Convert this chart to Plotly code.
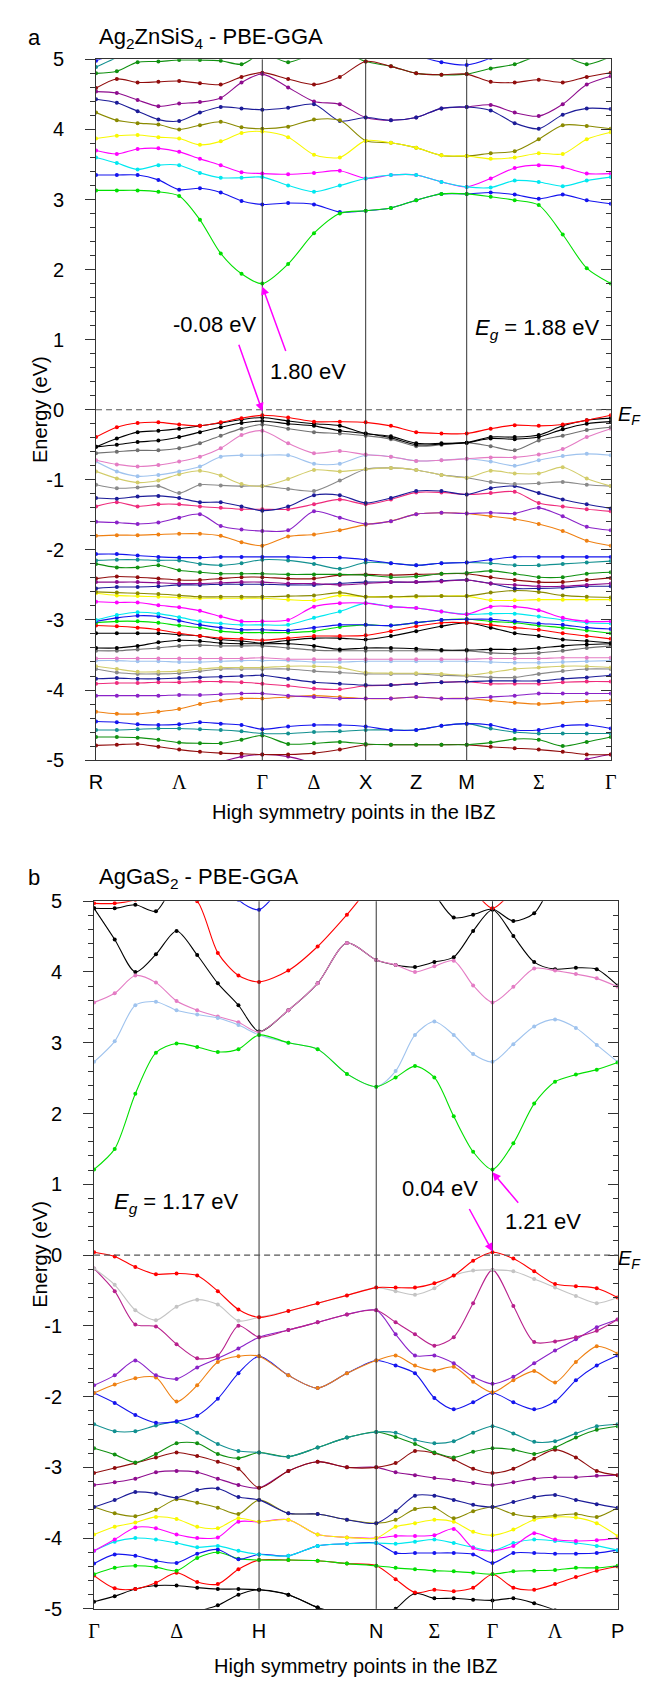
import numpy as np
import plotly.graph_objects as go

W, H = 652, 1686

# ---------------- k-path definitions ----------------
A_NODES = [0.0, 1.70, 2.757, 3.79, 5.263]        # R, Gamma, X, M, Gamma
A_NSEG = [8, 4, 4, 6]
A_TICKTEXT = ['R', 'Λ', 'Γ', 'Δ', 'X', 'Z', 'M', 'Σ', 'Γ']
B_NODES = [0.0, 1.684, 2.880, 4.067, 5.344]      # Gamma, H, N, Gamma, P
B_NSEG = [8, 4, 6, 6]
B_TICKTEXT = ['Γ', 'Δ', 'H', 'N', 'Σ', 'Γ', 'Λ', 'P']
Y_TICKS = [-5, -4, -3, -2, -1, 0, 1, 2, 3, 4, 5]

# ---------------- Panel a: Ag2ZnSiS4 bands (eV) ----------------
A_C1 = [3.13, 3.13, 3.13, 3.11, 3.05, 2.71, 2.23, 1.94, 1.80, 2.08, 2.52, 2.80, 2.84, 2.88, 2.99, 3.08, 3.08, 3.04, 2.99, 2.92, 2.50, 2.02, 1.80]
A_C2 = [3.35, 3.35, 3.35, 3.28, 3.14, 3.16, 3.10, 2.98, 2.93, 2.95, 2.93, 2.82, 2.84, 2.88, 2.99, 3.08, 3.08, 3.10, 3.07, 3.01, 3.07, 2.99, 2.94]
A_C3 = [3.60, 3.52, 3.43, 3.49, 3.49, 3.38, 3.31, 3.31, 3.32, 3.20, 3.11, 3.20, 3.30, 3.35, 3.35, 3.25, 3.18, 3.17, 3.27, 3.25, 3.19, 3.27, 3.32]
A_C4 = [3.70, 3.65, 3.72, 3.73, 3.68, 3.58, 3.49, 3.39, 3.37, 3.36, 3.38, 3.41, 3.30, 3.35, 3.35, 3.25, 3.18, 3.30, 3.45, 3.49, 3.46, 3.37, 3.37]
A_C5 = [3.87, 3.91, 3.92, 3.89, 3.87, 3.78, 3.83, 3.95, 3.97, 3.89, 3.64, 3.60, 3.84, 3.81, 3.74, 3.63, 3.62, 3.58, 3.60, 3.66, 3.65, 3.86, 3.96]
A_C6 = [4.24, 4.13, 4.09, 4.07, 4.00, 4.06, 4.11, 4.03, 4.01, 4.04, 4.14, 4.13, 3.84, 3.81, 3.74, 3.63, 3.62, 3.66, 3.69, 3.86, 4.06, 4.05, 4.01]
A_C7 = [4.43, 4.38, 4.26, 4.14, 4.12, 4.24, 4.32, 4.30, 4.28, 4.31, 4.36, 4.12, 4.17, 4.13, 4.17, 4.30, 4.32, 4.27, 4.09, 4.01, 4.21, 4.30, 4.29]
A_C8 = [4.54, 4.52, 4.42, 4.33, 4.37, 4.39, 4.45, 4.67, 4.79, 4.60, 4.40, 4.36, 4.17, 4.13, 4.17, 4.30, 4.32, 4.35, 4.24, 4.19, 4.36, 4.64, 4.76]
A_C9 = [4.59, 4.72, 4.67, 4.68, 4.69, 4.66, 4.64, 4.75, 4.81, 4.72, 4.64, 4.75, 4.97, 4.90, 4.80, 4.78, 4.79, 4.68, 4.67, 4.71, 4.67, 4.75, 4.81]
A_C10 = [4.80, 4.83, 4.96, 4.97, 4.99, 4.99, 4.98, 4.93, 5.08, 4.96, 5.08, 5.12, 4.97, 4.90, 4.80, 4.78, 4.79, 4.87, 4.93, 5.05, 5.05, 4.93, 5.04]
A_C11 = [4.89, 5.03, 5.20, 5.30, 5.30, 5.30, 5.30, 5.30, 5.30, 5.30, 5.30, 5.30, 5.30, 5.30, 5.30, 5.30, 5.30, 5.30, 5.30, 5.30, 5.30, 5.30, 5.30]
A_C12 = [4.98, 5.10, 5.30, 5.30, 5.30, 5.30, 5.30, 5.30, 5.30, 5.30, 5.30, 5.30, 5.30, 5.20, 5.06, 4.96, 4.92, 5.02, 5.20, 5.30, 5.30, 5.30, 5.30]

A_V1 = [-0.39, -0.25, -0.19, -0.18, -0.21, -0.23, -0.18, -0.12, -0.08, -0.11, -0.17, -0.17, -0.18, -0.23, -0.32, -0.34, -0.34, -0.27, -0.22, -0.23, -0.21, -0.15, -0.08]
A_V2 = [-0.53, -0.41, -0.32, -0.30, -0.27, -0.23, -0.19, -0.14, -0.11, -0.16, -0.20, -0.23, -0.34, -0.38, -0.48, -0.48, -0.47, -0.39, -0.39, -0.36, -0.23, -0.15, -0.12]
A_V3 = [-0.53, -0.50, -0.46, -0.44, -0.39, -0.32, -0.25, -0.19, -0.16, -0.20, -0.23, -0.30, -0.34, -0.40, -0.50, -0.49, -0.47, -0.41, -0.42, -0.39, -0.28, -0.20, -0.17]
A_V4 = [-0.62, -0.60, -0.58, -0.58, -0.55, -0.48, -0.37, -0.27, -0.21, -0.27, -0.32, -0.34, -0.37, -0.42, -0.52, -0.50, -0.47, -0.52, -0.58, -0.44, -0.37, -0.29, -0.25]
A_V5 = [-0.72, -0.78, -0.81, -0.79, -0.74, -0.67, -0.55, -0.36, -0.30, -0.48, -0.62, -0.59, -0.64, -0.67, -0.73, -0.72, -0.70, -0.68, -0.68, -0.64, -0.56, -0.39, -0.27]
A_V6 = [-0.74, -0.88, -0.95, -0.93, -0.88, -0.81, -0.67, -0.65, -0.65, -0.65, -0.77, -0.77, -0.65, -0.67, -0.73, -0.72, -0.70, -0.74, -0.80, -0.72, -0.66, -0.63, -0.65]
A_V7 = [-0.88, -0.98, -1.04, -1.01, -0.92, -0.87, -0.94, -1.06, -1.09, -0.99, -0.86, -0.88, -0.85, -0.83, -0.86, -0.93, -0.97, -0.87, -0.91, -0.91, -0.82, -0.98, -1.09]
A_V8 = [-1.07, -1.12, -1.11, -1.09, -1.19, -1.07, -1.08, -1.09, -1.09, -1.13, -1.16, -1.01, -0.85, -0.83, -0.86, -0.93, -0.97, -1.03, -1.06, -1.05, -1.03, -1.07, -1.09]
A_V9 = [-1.26, -1.27, -1.24, -1.23, -1.26, -1.32, -1.32, -1.38, -1.44, -1.38, -1.22, -1.22, -1.33, -1.26, -1.16, -1.16, -1.21, -1.12, -1.09, -1.19, -1.28, -1.35, -1.41]
A_V10 = [-1.38, -1.32, -1.38, -1.35, -1.35, -1.38, -1.40, -1.42, -1.42, -1.42, -1.35, -1.28, -1.35, -1.28, -1.18, -1.18, -1.21, -1.19, -1.17, -1.33, -1.38, -1.42, -1.45]
A_V11 = [-1.60, -1.61, -1.63, -1.61, -1.54, -1.49, -1.66, -1.71, -1.73, -1.72, -1.45, -1.54, -1.63, -1.59, -1.49, -1.47, -1.48, -1.47, -1.48, -1.40, -1.52, -1.67, -1.72]
A_V12 = [-1.80, -1.79, -1.79, -1.78, -1.77, -1.77, -1.80, -1.89, -1.94, -1.81, -1.78, -1.72, -1.64, -1.59, -1.49, -1.47, -1.48, -1.52, -1.56, -1.63, -1.73, -1.87, -1.94]
A_V13 = [-2.06, -2.06, -2.08, -2.10, -2.11, -2.11, -2.10, -2.10, -2.10, -2.10, -2.11, -2.11, -2.14, -2.19, -2.22, -2.19, -2.18, -2.14, -2.10, -2.10, -2.10, -2.10, -2.10]
A_V14 = [-2.15, -2.14, -2.14, -2.15, -2.15, -2.20, -2.22, -2.19, -2.14, -2.15, -2.20, -2.27, -2.18, -2.19, -2.22, -2.19, -2.18, -2.19, -2.22, -2.22, -2.20, -2.18, -2.16]
A_V15 = [-2.20, -2.25, -2.25, -2.22, -2.29, -2.32, -2.34, -2.34, -2.34, -2.35, -2.35, -2.35, -2.36, -2.39, -2.38, -2.34, -2.33, -2.30, -2.34, -2.39, -2.39, -2.34, -2.32]
A_V16 = [-2.41, -2.38, -2.39, -2.41, -2.43, -2.43, -2.41, -2.39, -2.39, -2.41, -2.41, -2.36, -2.35, -2.36, -2.35, -2.34, -2.34, -2.39, -2.43, -2.46, -2.46, -2.43, -2.40]
A_V17 = [-2.46, -2.46, -2.46, -2.47, -2.48, -2.48, -2.47, -2.46, -2.46, -2.48, -2.48, -2.50, -2.48, -2.46, -2.46, -2.45, -2.43, -2.48, -2.50, -2.52, -2.52, -2.50, -2.48]
A_V18 = [-2.55, -2.53, -2.53, -2.52, -2.50, -2.50, -2.49, -2.49, -2.49, -2.50, -2.50, -2.48, -2.46, -2.46, -2.46, -2.44, -2.43, -2.48, -2.55, -2.55, -2.54, -2.52, -2.52]
A_V19 = [-2.60, -2.61, -2.62, -2.63, -2.65, -2.67, -2.67, -2.67, -2.67, -2.66, -2.65, -2.61, -2.67, -2.67, -2.66, -2.66, -2.66, -2.61, -2.58, -2.60, -2.65, -2.67, -2.68]
A_V20 = [-2.62, -2.65, -2.66, -2.67, -2.68, -2.69, -2.69, -2.69, -2.69, -2.71, -2.72, -2.65, -2.67, -2.67, -2.67, -2.66, -2.66, -2.72, -2.72, -2.71, -2.71, -2.71, -2.71]
A_V21 = [-2.74, -2.75, -2.75, -2.79, -2.82, -2.87, -2.95, -3.02, -3.02, -3.00, -2.81, -2.76, -2.76, -2.81, -2.83, -2.88, -2.92, -2.81, -2.81, -2.86, -2.97, -3.02, -3.02]
A_V22 = [-3.00, -2.93, -2.89, -2.91, -2.96, -3.02, -3.05, -3.07, -3.07, -3.07, -2.97, -2.88, -2.76, -2.81, -2.83, -2.88, -2.92, -2.91, -2.91, -2.95, -3.00, -3.04, -3.05]
A_V23 = [-3.02, -2.97, -2.94, -2.95, -3.01, -3.07, -3.11, -3.14, -3.14, -3.15, -3.11, -3.07, -3.07, -3.08, -3.04, -3.00, -2.99, -2.99, -3.02, -3.05, -3.07, -3.11, -3.13]
A_V24 = [-3.04, -3.02, -3.02, -3.04, -3.08, -3.11, -3.16, -3.18, -3.18, -3.18, -3.16, -3.10, -3.07, -3.08, -3.04, -3.00, -2.99, -3.02, -3.04, -3.08, -3.11, -3.15, -3.19]
A_V25 = [-3.08, -3.09, -3.11, -3.14, -3.19, -3.23, -3.26, -3.27, -3.29, -3.26, -3.23, -3.23, -3.22, -3.16, -3.09, -3.04, -3.04, -3.07, -3.11, -3.14, -3.19, -3.23, -3.27]
A_V26 = [-3.19, -3.19, -3.19, -3.19, -3.21, -3.23, -3.28, -3.30, -3.33, -3.29, -3.26, -3.26, -3.28, -3.23, -3.16, -3.09, -3.04, -3.11, -3.19, -3.23, -3.28, -3.30, -3.33]
A_V27 = [-3.40, -3.40, -3.37, -3.32, -3.29, -3.30, -3.33, -3.34, -3.34, -3.34, -3.37, -3.42, -3.40, -3.40, -3.41, -3.43, -3.43, -3.42, -3.42, -3.40, -3.37, -3.35, -3.34]
A_V28 = [-3.44, -3.44, -3.42, -3.40, -3.37, -3.36, -3.37, -3.37, -3.37, -3.40, -3.43, -3.44, -3.44, -3.44, -3.44, -3.44, -3.44, -3.47, -3.48, -3.47, -3.44, -3.40, -3.37]
A_V29 = [-3.55, -3.55, -3.55, -3.55, -3.55, -3.55, -3.55, -3.55, -3.54, -3.56, -3.56, -3.56, -3.56, -3.56, -3.56, -3.56, -3.56, -3.55, -3.55, -3.55, -3.54, -3.54, -3.54]
A_V30 = [-3.58, -3.58, -3.59, -3.59, -3.60, -3.60, -3.59, -3.58, -3.58, -3.58, -3.60, -3.60, -3.59, -3.59, -3.59, -3.59, -3.59, -3.60, -3.61, -3.61, -3.60, -3.59, -3.58]
A_V31 = [-3.66, -3.70, -3.74, -3.74, -3.73, -3.70, -3.68, -3.68, -3.68, -3.66, -3.66, -3.68, -3.75, -3.76, -3.76, -3.77, -3.79, -3.75, -3.70, -3.68, -3.66, -3.66, -3.68]
A_V32 = [-3.70, -3.75, -3.77, -3.77, -3.76, -3.73, -3.70, -3.70, -3.70, -3.70, -3.73, -3.75, -3.77, -3.77, -3.77, -3.79, -3.80, -3.82, -3.82, -3.77, -3.73, -3.70, -3.70]
A_V33 = [-3.84, -3.83, -3.84, -3.84, -3.83, -3.82, -3.81, -3.80, -3.79, -3.84, -3.89, -3.91, -3.93, -3.93, -3.91, -3.89, -3.88, -3.87, -3.87, -3.87, -3.84, -3.82, -3.79]
A_V34 = [-3.91, -3.90, -3.90, -3.89, -3.89, -3.88, -3.88, -3.89, -3.91, -3.94, -3.98, -3.99, -3.94, -3.93, -3.91, -3.89, -3.88, -3.91, -3.91, -3.91, -3.89, -3.88, -3.88]
A_V35 = [-4.08, -4.08, -4.08, -4.08, -4.07, -4.07, -4.06, -4.05, -4.05, -4.08, -4.10, -4.12, -4.12, -4.12, -4.10, -4.12, -4.12, -4.10, -4.08, -4.05, -4.05, -4.05, -4.05]
A_V36 = [-4.31, -4.34, -4.34, -4.31, -4.27, -4.20, -4.15, -4.12, -4.12, -4.10, -4.08, -4.10, -4.12, -4.12, -4.10, -4.12, -4.12, -4.15, -4.18, -4.20, -4.18, -4.16, -4.15]
A_V37 = [-4.45, -4.46, -4.49, -4.50, -4.49, -4.46, -4.48, -4.50, -4.56, -4.52, -4.50, -4.50, -4.52, -4.57, -4.57, -4.51, -4.48, -4.50, -4.57, -4.57, -4.51, -4.50, -4.55]
A_V38 = [-4.57, -4.57, -4.56, -4.55, -4.55, -4.56, -4.57, -4.59, -4.62, -4.62, -4.60, -4.59, -4.57, -4.57, -4.57, -4.51, -4.48, -4.55, -4.60, -4.62, -4.62, -4.62, -4.62]
A_V39 = [-4.67, -4.67, -4.68, -4.71, -4.75, -4.76, -4.76, -4.71, -4.65, -4.77, -4.76, -4.74, -4.77, -4.78, -4.78, -4.78, -4.78, -4.75, -4.70, -4.71, -4.80, -4.74, -4.67]
A_V40 = [-4.79, -4.78, -4.77, -4.81, -4.85, -4.88, -4.90, -4.91, -4.92, -4.92, -4.90, -4.85, -4.78, -4.78, -4.78, -4.78, -4.78, -4.81, -4.83, -4.85, -4.88, -4.92, -4.92]
A_V41 = [-5.30, -5.30, -5.30, -5.30, -5.30, -5.15, -5.03, -4.95, -4.92, -4.95, -5.05, -5.20, -5.30, -5.30, -5.30, -5.30, -5.30, -5.30, -5.30, -5.30, -5.15, -4.99, -4.92]

# ---------------- Panel b: AgGaS2 bands (eV) ----------------
B_C1 = [1.21, 1.50, 2.28, 2.86, 2.99, 2.94, 2.87, 2.91, 3.11, 3.00, 2.91, 2.56, 2.38, 2.51, 2.67, 2.51, 1.96, 1.46, 1.21, 1.58, 2.14, 2.45, 2.55, 2.62, 2.72]
B_C2 = [2.73, 3.02, 3.53, 3.58, 3.46, 3.40, 3.35, 3.25, 3.11, 3.00, 2.91, 2.56, 2.38, 2.60, 3.11, 3.30, 3.11, 2.84, 2.73, 2.98, 3.23, 3.33, 3.21, 2.97, 2.73]
B_C3 = [3.57, 3.70, 3.95, 3.85, 3.59, 3.46, 3.37, 3.29, 3.15, 3.46, 3.84, 4.41, 4.17, 4.10, 4.00, 4.08, 4.16, 3.81, 3.57, 3.79, 4.05, 4.02, 3.97, 3.91, 3.79]
B_C4 = [4.90, 4.46, 4.00, 4.25, 4.58, 4.24, 3.84, 3.53, 3.16, 3.46, 3.84, 4.41, 4.17, 4.10, 4.07, 4.14, 4.21, 4.58, 4.88, 4.51, 4.14, 4.04, 4.06, 4.04, 3.81]
B_C5 = [4.90, 4.90, 4.95, 4.86, 5.30, 5.50, 5.50, 5.50, 5.50, 5.50, 5.50, 5.50, 5.50, 5.50, 5.40, 5.10, 4.77, 4.81, 4.89, 4.72, 4.83, 5.30, 5.50, 5.50, 5.50]
B_C6 = [4.97, 4.97, 5.02, 5.15, 5.15, 5.00, 4.27, 3.95, 3.86, 4.02, 4.36, 4.81, 5.30, 5.50, 5.50, 5.50, 5.40, 5.15, 4.90, 5.15, 5.40, 5.50, 5.50, 5.50, 5.50]
B_C7 = [5.50, 5.50, 5.50, 5.50, 5.50, 5.50, 5.50, 5.02, 4.88, 5.30, 5.50, 5.50, 5.50, 5.50, 5.50, 5.50, 5.50, 5.50, 5.50, 5.50, 5.50, 5.50, 5.50, 5.50, 5.50]

B_V1 = [0.04, -0.02, -0.17, -0.27, -0.26, -0.29, -0.51, -0.77, -0.88, -0.79, -0.68, -0.57, -0.46, -0.46, -0.46, -0.40, -0.29, -0.08, 0.04, -0.05, -0.23, -0.41, -0.44, -0.47, -0.60]
B_V2 = [-0.19, -0.42, -0.78, -0.92, -0.73, -0.63, -0.70, -0.93, -0.88, -0.79, -0.68, -0.57, -0.46, -0.51, -0.56, -0.47, -0.29, -0.22, -0.21, -0.23, -0.34, -0.46, -0.58, -0.68, -0.60]
B_V3 = [-0.19, -0.51, -0.98, -1.01, -1.26, -1.46, -1.42, -1.00, -1.16, -1.06, -0.95, -0.84, -0.78, -0.95, -1.12, -1.28, -1.16, -0.68, -0.21, -0.72, -1.23, -1.22, -1.16, -1.07, -0.91]
B_V4 = [-1.84, -1.70, -1.49, -1.70, -1.75, -1.59, -1.46, -1.32, -1.16, -1.06, -0.95, -0.84, -0.78, -1.12, -1.42, -1.42, -1.53, -1.72, -1.82, -1.72, -1.53, -1.35, -1.19, -1.02, -0.91]
B_V5 = [-1.95, -1.83, -1.74, -1.73, -2.07, -1.84, -1.51, -1.43, -1.43, -1.70, -1.88, -1.67, -1.49, -1.42, -1.56, -1.63, -1.58, -1.79, -1.94, -1.77, -1.64, -1.80, -1.51, -1.29, -1.39]
B_V6 = [-1.95, -2.09, -2.26, -2.37, -2.35, -2.27, -2.03, -1.67, -1.43, -1.70, -1.88, -1.67, -1.49, -1.56, -1.67, -2.02, -2.18, -2.08, -1.95, -2.08, -2.18, -2.07, -1.77, -1.56, -1.42]
B_V7 = [-2.39, -2.49, -2.49, -2.41, -2.36, -2.51, -2.67, -2.77, -2.79, -2.85, -2.72, -2.58, -2.50, -2.51, -2.61, -2.66, -2.63, -2.51, -2.42, -2.52, -2.64, -2.63, -2.52, -2.42, -2.39]
B_V8 = [-2.73, -2.82, -2.93, -2.81, -2.66, -2.66, -2.81, -2.87, -2.79, -2.85, -2.72, -2.58, -2.50, -2.57, -2.67, -2.79, -2.86, -2.78, -2.73, -2.75, -2.81, -2.72, -2.58, -2.47, -2.42]
B_V9 = [-3.08, -3.01, -2.94, -2.86, -2.79, -2.84, -2.92, -3.02, -3.29, -3.05, -2.92, -3.00, -3.00, -2.94, -2.77, -2.80, -2.89, -3.02, -3.08, -3.02, -2.88, -2.75, -2.86, -3.05, -3.11]
B_V10 = [-3.25, -3.21, -3.16, -3.07, -3.05, -3.07, -3.16, -3.25, -3.29, -3.05, -2.92, -3.00, -3.00, -3.07, -3.11, -3.15, -3.18, -3.22, -3.25, -3.21, -3.16, -3.14, -3.14, -3.12, -3.11]
B_V11 = [-3.56, -3.46, -3.35, -3.37, -3.43, -3.32, -3.30, -3.42, -3.46, -3.65, -3.66, -3.74, -3.79, -3.62, -3.40, -3.40, -3.46, -3.53, -3.56, -3.49, -3.42, -3.39, -3.46, -3.52, -3.57]
B_V12 = [-3.56, -3.65, -3.69, -3.60, -3.45, -3.50, -3.57, -3.66, -3.46, -3.65, -3.66, -3.74, -3.79, -3.74, -3.59, -3.57, -3.72, -3.62, -3.56, -3.66, -3.70, -3.68, -3.66, -3.70, -3.57]
B_V13 = [-3.95, -3.84, -3.78, -3.70, -3.73, -3.84, -3.86, -3.72, -3.77, -3.74, -3.95, -3.99, -4.00, -3.84, -3.79, -3.74, -3.77, -3.91, -3.96, -3.88, -3.74, -3.70, -3.71, -3.79, -3.97]
B_V14 = [-4.18, -4.02, -3.85, -3.86, -3.95, -4.00, -3.99, -3.77, -3.77, -3.74, -3.95, -3.99, -4.00, -3.97, -3.97, -3.96, -3.87, -4.14, -4.18, -4.11, -3.93, -4.02, -4.04, -4.03, -4.00]
B_V15 = [-4.18, -4.05, -4.00, -4.02, -4.07, -4.13, -4.11, -4.18, -4.23, -4.25, -4.11, -4.08, -4.07, -4.08, -4.05, -4.02, -4.07, -4.13, -4.18, -4.07, -4.02, -4.04, -4.07, -4.11, -4.17]
B_V16 = [-4.36, -4.23, -4.25, -4.32, -4.35, -4.22, -4.16, -4.30, -4.23, -4.25, -4.11, -4.08, -4.07, -4.21, -4.21, -4.21, -4.21, -4.23, -4.35, -4.21, -4.21, -4.22, -4.22, -4.21, -4.17]
B_V17 = [-4.51, -4.42, -4.39, -4.41, -4.46, -4.28, -4.20, -4.29, -4.31, -4.31, -4.32, -4.36, -4.39, -4.42, -4.44, -4.46, -4.47, -4.49, -4.51, -4.47, -4.46, -4.45, -4.42, -4.42, -4.39]
B_V18 = [-4.53, -4.71, -4.72, -4.63, -4.49, -4.62, -4.65, -4.44, -4.31, -4.31, -4.32, -4.36, -4.39, -4.58, -4.77, -4.73, -4.75, -4.70, -4.51, -4.70, -4.73, -4.65, -4.55, -4.46, -4.40]
B_V19 = [-4.90, -4.82, -4.72, -4.67, -4.67, -4.70, -4.72, -4.72, -4.73, -4.80, -4.98, -5.10, -5.20, -5.00, -4.78, -4.85, -4.85, -4.87, -4.88, -4.85, -4.92, -5.02, -5.20, -5.30, -5.30]
B_V20 = [-5.30, -5.30, -5.30, -5.30, -5.30, -5.05, -4.95, -4.80, -4.73, -4.80, -4.98, -5.10, -5.20, -5.30, -5.30, -5.30, -5.30, -5.30, -5.30, -5.30, -5.30, -5.30, -5.30, -5.30, -5.30]

# ---------------- styles ----------------
RED, BLACK, GREY, PINK, LBLUE = '#ff0000', '#000000', '#707070', '#e47cc4', '#9fc3ee'
KHAKI, GREY2, NAVY, CRIMSON, VIOLET = '#d2cc6a', '#8a8a8a', '#1c1c98', '#ee2a7b', '#8a22c8'
ORANGE, BLUE, TEAL, GREEN, DRED = '#ef8012', '#1414ee', '#129090', '#109010', '#900c0c'
PURPLE, OLIVE, YELLOW, MAGENTA, CYAN, LIME = '#8e0c8e', '#8a8a00', '#f8f800', '#ff00ff', '#00e8f0', '#00e000'

A_BANDS = [
    (A_V41, PURPLE), (A_V40, DRED), (A_V39, GREEN), (A_V38, TEAL), (A_V37, BLUE),
    (A_V36, ORANGE), (A_V35, VIOLET), (A_V34, CRIMSON), (A_V33, NAVY), (A_V32, GREY2),
    (A_V31, KHAKI), (A_V30, LBLUE), (A_V29, PINK), (A_V28, GREY), (A_V27, BLACK),
    (A_V26, BLACK), (A_V25, RED), (A_V24, LIME), (A_V23, BLUE), (A_V22, CYAN),
    (A_V21, MAGENTA), (A_V20, YELLOW), (A_V19, OLIVE), (A_V18, NAVY), (A_V17, PURPLE),
    (A_V16, DRED), (A_V15, GREEN), (A_V14, TEAL), (A_V13, BLUE), (A_V12, ORANGE),
    (A_V11, VIOLET), (A_V10, CRIMSON), (A_V9, NAVY), (A_V8, GREY2), (A_V7, KHAKI),
    (A_V6, LBLUE), (A_V5, PINK), (A_V4, GREY), (A_V3, BLACK), (A_V2, BLACK), (A_V1, RED),
    (A_C12, BLUE), (A_C11, TEAL), (A_C10, GREEN), (A_C9, DRED), (A_C8, PURPLE),
    (A_C7, NAVY), (A_C6, OLIVE), (A_C5, YELLOW), (A_C4, MAGENTA), (A_C3, CYAN),
    (A_C2, BLUE), (A_C1, LIME),
]
B_BANDS = [
    (B_V20, BLACK), (B_V19, BLACK), (B_V18, RED), (B_V17, LIME), (B_V16, BLUE),
    (B_V15, CYAN), (B_V14, MAGENTA), (B_V13, YELLOW), (B_V12, OLIVE), (B_V11, NAVY),
    (B_V10, PURPLE), (B_V9, DRED), (B_V8, GREEN), (B_V7, TEAL), (B_V6, BLUE),
    (B_V5, ORANGE), (B_V4, VIOLET), (B_V3, '#b8208c'), (B_V2, '#c4c4c4'), (B_V1, RED),
    (B_C7, BLUE), (B_C5, BLACK), (B_C4, BLACK), (B_C6, RED), (B_C3, PINK),
    (B_C2, LBLUE), (B_C1, LIME),
]


def kpath(nodes, nseg):
    xs = [nodes[0]]
    for i, n in enumerate(nseg):
        xs.extend(np.linspace(nodes[i], nodes[i + 1], n + 1)[1:].tolist())
    return np.array(xs)


def tickpos(nodes, labelled_mid):
    vals = []
    for i in range(len(nodes)):
        vals.append(nodes[i])
        if i < len(nodes) - 1 and labelled_mid[i]:
            vals.append(0.5 * (nodes[i] + nodes[i + 1]))
    return vals


def greek(t):
    if t in 'ΓΛΔΣ':
        return "<span style='font-family:Liberation Serif'>" + t + "</span>"
    return t


def px(x):
    return x / W


def py(y):
    return 1 - y / H


KA = kpath(A_NODES, A_NSEG)
KB = kpath(B_NODES, B_NSEG)

fig = go.Figure()
for vals, col in A_BANDS:
    fig.add_trace(go.Scatter(x=KA, y=vals, mode='lines+markers', xaxis='x', yaxis='y',
                             line=dict(color=col, width=1.1, shape='spline', smoothing=0.8),
                             marker=dict(size=4, color=col), showlegend=False, hoverinfo='skip'))
for vals, col in B_BANDS:
    fig.add_trace(go.Scatter(x=KB, y=vals, mode='lines+markers', xaxis='x2', yaxis='y2',
                             line=dict(color=col, width=1.1, shape='spline', smoothing=0.8),
                             marker=dict(size=4, color=col), showlegend=False, hoverinfo='skip'))
# carriers for the right-hand inner-tick axes
fig.add_trace(go.Scatter(x=[None], y=[None], xaxis='x', yaxis='y3', showlegend=False, hoverinfo='skip'))
fig.add_trace(go.Scatter(x=[None], y=[None], xaxis='x2', yaxis='y4', showlegend=False, hoverinfo='skip'))

FONT = 'Liberation Sans, Arial, sans-serif'
AX = '#333333'

A_TV = tickpos(A_NODES, [True, True, True, True])
B_TV = tickpos(B_NODES, [True, False, True, True])

xcommon = dict(showline=True, linecolor=AX, linewidth=1, mirror=True, ticks='',
               showgrid=False, zeroline=False, tickfont=dict(size=20, color='black', family=FONT),
               ticklabelstandoff=4)
ycommon = dict(range=[-5, 5], tickmode='array', tickvals=Y_TICKS, ticktext=[str(v) for v in Y_TICKS],
               showgrid=False, zeroline=False, showline=True, linecolor=AX, linewidth=1)
yleft = dict(ycommon, ticks='outside', ticklen=10, tickwidth=1, tickcolor=AX,
             minor=dict(dtick=0.2, tick0=0, ticks='outside', ticklen=5, tickcolor=AX),
             tickfont=dict(size=20, color='black', family=FONT), ticklabelstandoff=17)
yright = dict(ycommon, ticks='inside', ticklen=10, tickwidth=1, tickcolor=AX,
              minor=dict(dtick=0.2, tick0=0, ticks='inside', ticklen=5, tickcolor=AX),
              showticklabels=False, side='right')

dom_a_y = [py(759), py(49)]
dom_b_y = [py(1619), py(902)]

fig.update_layout(
    width=W, height=H, margin=dict(l=0, r=0, t=0, b=0),
    paper_bgcolor='white', plot_bgcolor='white', font=dict(family=FONT, color='black'),
    xaxis=dict(xcommon, domain=[px(91), px(617)], anchor='y', range=[0, A_NODES[-1]],
               tickmode='array', tickvals=A_TV, ticktext=[greek(t) for t in A_TICKTEXT]),
    yaxis=dict(yleft, domain=dom_a_y, anchor='x'),
    yaxis3=dict(yright, overlaying='y', anchor='x'),
    xaxis2=dict(xcommon, domain=[px(89), px(624)], anchor='y2', range=[0, B_NODES[-1]],
                tickmode='array', tickvals=B_TV, ticktext=[greek(t) for t in B_TICKTEXT]),
    yaxis2=dict(yleft, domain=dom_b_y, anchor='x2'),
    yaxis4=dict(yright, overlaying='y2', anchor='x2'),
)

shapes = []
for xa, ya, nodes in (('x', 'y', A_NODES), ('x2', 'y2', B_NODES)):
    for xn in nodes[1:-1]:
        shapes.append(dict(type='line', xref=xa, yref=ya + ' domain', x0=xn, x1=xn, y0=0, y1=1,
                           line=dict(color=AX, width=1)))
    shapes.append(dict(type='line', xref=xa + ' domain', yref=ya, x0=0, x1=1, y0=0, y1=0,
                       line=dict(color='#555555', width=1.2, dash='6px,4px')))
fig.update_layout(shapes=shapes)

ann = []


def text(x, y, s, size=21, xanchor='center', angle=0):
    ann.append(dict(x=px(x), y=py(y), xref='paper', yref='paper', text=s, showarrow=False,
                    xanchor=xanchor, yanchor='middle', textangle=angle, borderpad=0,
                    font=dict(size=size, color='black', family=FONT)))


def arrow(xa, ya, xk, yk, dx, dy):
    ann.append(dict(x=xk, y=yk, xref=xa, yref=ya, ax=dx, ay=dy, text='', showarrow=True,
                    arrowhead=2, arrowsize=1.1, arrowwidth=1.5, arrowcolor='#ff00ff', standoff=0))


text(28, 27, 'a', 22)
text(93, 27, 'Ag<sub>2</sub>ZnSiS<sub>4</sub> - PBE-GGA', 22, 'left')
text(28, 878, 'b', 22)
text(93, 878, 'AgGaS<sub>2</sub> - PBE-GGA', 22, 'left')
text(354, 812, 'High symmetry points in the IBZ', 20)
text(356, 1677, 'High symmetry points in the IBZ', 20)
text(33, 404, 'Energy (eV)', 20, angle=-90)
text(33, 1260, 'Energy (eV)', 20, angle=-90)
text(212, 318, '-0.08 eV', 22)
text(308, 365, '1.80 eV', 22)
text(542, 322, '<i>E</i><sub><i>g</i></sub> = 1.88 eV', 22)
text(649, 410, '<i>E</i><sub><i>F</i></sub>', 20, 'right')
text(173, 1208, '<i>E</i><sub><i>g</i></sub> = 1.17 eV', 22)
text(442, 1193, '0.04 eV', 22)
text(548, 1227, '1.21 eV', 22)
text(649, 1265, '<i>E</i><sub><i>F</i></sub>', 20, 'right')

arrow('x', 'y', A_NODES[1], -0.02, -24, -68)
arrow('x', 'y', A_NODES[1], 1.76, 24, 66)
arrow('x2', 'y2', B_NODES[3], 0.05, -24, -44)
arrow('x2', 'y2', B_NODES[3], 1.17, 27, 32)

fig.update_layout(annotations=ann)
# place the figure at the page origin (no default body margin), no toolbar
fig.write_html('out.html', config={'displayModeBar': False},
               post_script="document.body.style.margin='0';document.body.style.padding='0';"
                           "document.body.style.overflow='hidden';")
